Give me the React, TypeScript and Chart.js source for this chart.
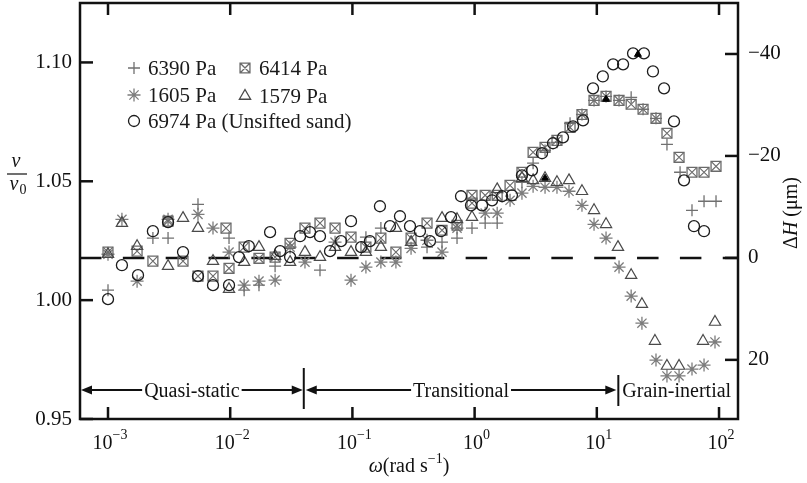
import React, { useEffect, useRef } from 'react';
import { Chart, registerables } from 'chart.js';

Chart.register(...registerables);

// ---------- axes ----------
const xTickValues = [0.001, 0.01, 0.1, 1, 10, 100];
const xTickExponents = ['\u22123', '\u22122', '\u22121', '0', '1', '2'];
const yTickValues = [0.95, 1.0, 1.05, 1.1];
const y2TickValues = [-40, -20, 0, 20];
const xMin = 0.00059;
const xMax = 143;
const yMin = 0.95;
const yMax = 1.125;
const y2Min = -50;
const y2Max = 31.6;

// regime boundaries (rad/s) and labels
const regimeBounds = [0.04, 15];
const regimeLabels = ['Quasi-static', 'Transitional', 'Grain-inertial'];

// ---------- data ----------
const omega6390 = [0.001, 0.00233, 0.0031, 0.00545, 0.00978, 0.013, 0.0172, 0.0233, 0.0543, 0.129, 0.171, 0.408, 0.541, 0.718, 0.952, 1.22, 1.53, 2.44, 3.01, 3.77, 4.72, 6.04, 7.56, 9.49, 11.9, 15.2, 19.1, 23.9, 30.5, 37.5, 48.0, 60.1, 75.4, 94.5];
const v6390 = [1.0042, 1.0261, 1.0261, 1.0403, 1.0261, 1.0042, 1.0063, 1.0143, 1.0126, 1.0265, 1.0303, 1.0223, 1.0244, 1.0261, 1.0303, 1.0324, 1.0324, 1.0496, 1.0576, 1.063, 1.0664, 1.0744, 1.0781, 1.084, 1.0857, 1.084, 1.0853, 1.0803, 1.0765, 1.0655, 1.0538, 1.0378, 1.0416, 1.0416];

const omega6414 = [0.001, 0.00173, 0.00233, 0.0031, 0.00411, 0.00545, 0.00723, 0.00924, 0.00978, 0.013, 0.0172, 0.0233, 0.0309, 0.0409, 0.0543, 0.0721, 0.0974, 0.129, 0.171, 0.227, 0.302, 0.408, 0.541, 0.718, 0.952, 0.952, 1.22, 1.53, 1.95, 2.44, 3.01, 3.77, 4.72, 6.04, 7.56, 9.49, 11.9, 15.2, 19.1, 23.9, 30.5, 37.5, 47.1, 60.1, 75.4, 94.5];
const v6414 = [1.0202, 1.0206, 1.0164, 1.0332, 1.0164, 1.0101, 1.0101, 1.0303, 1.0134, 1.0223, 1.0176, 1.0181, 1.0239, 1.0303, 1.0324, 1.0303, 1.0265, 1.0223, 1.0261, 1.0202, 1.0261, 1.0324, 1.0294, 1.0315, 1.0441, 1.0408, 1.0441, 1.0441, 1.0483, 1.0538, 1.0622, 1.0643, 1.0672, 1.0727, 1.0781, 1.084, 1.0857, 1.084, 1.0824, 1.0803, 1.0765, 1.0702, 1.0601, 1.0538, 1.0538, 1.0563];

const omega1605 = [0.001, 0.0013, 0.00173, 0.0031, 0.00545, 0.00723, 0.00978, 0.013, 0.0172, 0.0233, 0.0309, 0.0409, 0.0721, 0.0974, 0.129, 0.171, 0.227, 0.302, 0.408, 0.541, 0.718, 1.22, 1.53, 1.95, 2.44, 3.01, 3.77, 4.72, 5.92, 7.56, 9.49, 11.9, 15.2, 19.1, 23.4, 30.5, 37.5, 47.1, 60.1, 75.4, 92.7];
const v1605 = [1.0193, 1.034, 1.008, 1.034, 1.0361, 1.0303, 1.0202, 1.0063, 1.008, 1.0084, 1.0223, 1.016, 1.0244, 1.0084, 1.0139, 1.016, 1.016, 1.0218, 1.0252, 1.0202, 1.0303, 1.0366, 1.0366, 1.042, 1.045, 1.0479, 1.0475, 1.0475, 1.0458, 1.0399, 1.0319, 1.0261, 1.0139, 1.0017, 0.9903, 0.9748, 0.9681, 0.9681, 0.971, 0.9727, 0.9824];

const omega1579 = [0.001, 0.0013, 0.00173, 0.0031, 0.00411, 0.00545, 0.00723, 0.00978, 0.013, 0.0172, 0.0233, 0.0309, 0.0409, 0.0543, 0.0721, 0.0974, 0.129, 0.171, 0.227, 0.302, 0.541, 0.718, 0.952, 1.53, 2.44, 3.01, 3.77, 4.72, 5.92, 7.56, 9.49, 11.9, 14.9, 19.1, 23.4, 29.9, 37.5, 47.1, 74.0, 92.7];
const v1579 = [1.0193, 1.0324, 1.0227, 1.0143, 1.0345, 1.0303, 1.0164, 1.0046, 1.016, 1.0223, 1.0185, 1.016, 1.0202, 1.0181, 1.0223, 1.0202, 1.0202, 1.0223, 1.0303, 1.0244, 1.0345, 1.034, 1.0349, 1.0466, 1.0513, 1.0504, 1.0513, 1.0496, 1.0504, 1.0458, 1.0378, 1.0319, 1.0223, 1.0105, 0.9983, 0.9828, 0.9723, 0.9723, 0.9828, 0.9908];

const omega6974 = [0.001, 0.0013, 0.00176, 0.00233, 0.0031, 0.00411, 0.00545, 0.00723, 0.00978, 0.0118, 0.0142, 0.0212, 0.0256, 0.0309, 0.0373, 0.045, 0.0543, 0.0656, 0.0807, 0.0974, 0.118, 0.139, 0.168, 0.203, 0.245, 0.296, 0.357, 0.431, 0.531, 0.641, 0.774, 0.934, 1.15, 1.39, 1.68, 2.02, 2.44, 2.95, 3.56, 4.38, 5.29, 6.39, 7.71, 9.31, 11.2, 13.6, 16.4, 19.8, 24.3, 28.8, 35.5, 42.8, 51.7, 62.4, 75.4];
const v6974 = [1.0004, 1.0147, 1.0105, 1.029, 1.0328, 1.0202, 1.0101, 1.0063, 1.0063, 1.0181, 1.0227, 1.0286, 1.0206, 1.0181, 1.0269, 1.0286, 1.0269, 1.0206, 1.0248, 1.0332, 1.0223, 1.0248, 1.0395, 1.0311, 1.0353, 1.0311, 1.029, 1.0248, 1.029, 1.0349, 1.0437, 1.0399, 1.0399, 1.042, 1.0437, 1.0441, 1.0525, 1.0546, 1.0618, 1.066, 1.0685, 1.0731, 1.0756, 1.0891, 1.0941, 1.0992, 1.0992, 1.1038, 1.1038, 1.0962, 1.0891, 1.0752, 1.0504, 1.0311, 1.029];

// solid black triangles (highlighted points)
const omegaFilled = [3.77, 11.9, 21.7];
const vFilled = [1.0513, 1.0845, 1.1034];

const legendLabels = ['6390 Pa', '6414 Pa', '1605 Pa', '1579 Pa', '6974 Pa (Unsifted sand)'];

// ---------- styles ----------
const SERIF = '"Liberation Serif", "Times New Roman", serif';
const INK = '#111111';
const C_PLUS = '#707070';
const C_SQ = '#6a6a6a';
const C_STAR = '#7c7c7c';
const C_TRI = '#4a4a4a';
const C_CIRC = '#1c1c1c';

const toPts = (xs: number[], ys: number[]) => xs.map((x, i) => ({ x, y: ys[i] }));

function drawMarker(ctx: CanvasRenderingContext2D, kind: string, x: number, y: number, r: number, color: string, lw: number) {
  ctx.save();
  ctx.strokeStyle = color;
  ctx.lineWidth = lw;
  ctx.beginPath();
  if (kind === 'cross') {
    ctx.moveTo(x - r, y); ctx.lineTo(x + r, y);
    ctx.moveTo(x, y - r); ctx.lineTo(x, y + r);
  } else if (kind === 'star') {
    for (let k = 0; k < 4; k++) {
      const ang = (k * Math.PI) / 4;
      ctx.moveTo(x - Math.cos(ang) * r, y - Math.sin(ang) * r);
      ctx.lineTo(x + Math.cos(ang) * r, y + Math.sin(ang) * r);
    }
  } else if (kind === 'rectX') {
    const s = r * Math.SQRT1_2;
    ctx.rect(x - s, y - s, 2 * s, 2 * s);
    ctx.moveTo(x - s, y - s); ctx.lineTo(x + s, y + s);
    ctx.moveTo(x + s, y - s); ctx.lineTo(x - s, y + s);
  } else if (kind === 'triangle') {
    let rad = 0;
    ctx.moveTo(x + Math.sin(rad) * r, y - Math.cos(rad) * r);
    rad += (2 * Math.PI) / 3;
    ctx.lineTo(x + Math.sin(rad) * r, y - Math.cos(rad) * r);
    rad += (2 * Math.PI) / 3;
    ctx.lineTo(x + Math.sin(rad) * r, y - Math.cos(rad) * r);
    ctx.closePath();
  } else if (kind === 'circle') {
    ctx.arc(x, y, r, 0, Math.PI * 2);
  }
  ctx.stroke();
  ctx.restore();
}

function drawRich(ctx: CanvasRenderingContext2D, parts: { t: string; size: number; italic?: boolean; dy?: number }[], cx: number, baseY: number) {
  const widths = parts.map(p => {
    ctx.font = `${p.italic ? 'italic ' : ''}${p.size}px ${SERIF}`;
    return ctx.measureText(p.t).width;
  });
  const total = widths.reduce((a, b) => a + b, 0);
  let x = cx - total / 2;
  ctx.textAlign = 'left';
  parts.forEach((p, i) => {
    ctx.font = `${p.italic ? 'italic ' : ''}${p.size}px ${SERIF}`;
    ctx.fillText(p.t, x, baseY + (p.dy || 0));
    x += widths[i];
  });
}

const decor = {
  id: 'decor',
  afterDraw(chart: any) {
    const { ctx, chartArea: a, scales } = chart;
    const sx = scales.x, sy = scales.y, sy2 = scales.y2;
    ctx.save();
    ctx.strokeStyle = INK;
    ctx.fillStyle = INK;
    const seg = (x1: number, y1: number, x2: number, y2: number) => {
      ctx.beginPath(); ctx.moveTo(x1, y1); ctx.lineTo(x2, y2); ctx.stroke();
    };

    // frame
    ctx.lineWidth = 2.5;
    ctx.strokeRect(a.left, a.top, a.right - a.left, a.bottom - a.top);

    // inward ticks
    xTickValues.forEach(v => {
      const px = sx.getPixelForValue(v);
      seg(px, a.bottom, px, a.bottom - 12);
      seg(px, a.top, px, a.top + 12);
    });
    yTickValues.forEach(v => {
      const py = sy.getPixelForValue(v);
      seg(a.left, py, a.left + 13, py);
    });
    y2TickValues.forEach(v => {
      const py = sy2.getPixelForValue(v);
      seg(a.right - 13, py, a.right, py);
    });

    // x tick labels (10^n)
    ctx.textBaseline = 'alphabetic';
    xTickValues.forEach((v, i) => {
      const px = sx.getPixelForValue(v);
      drawRich(ctx, [
        { t: '10', size: 20 },
        { t: xTickExponents[i], size: 14, dy: -10 },
      ], px + 2, a.bottom + 30);
    });

    // x title
    drawRich(ctx, [
      { t: '\u03C9', size: 20, italic: true },
      { t: '(rad s', size: 20 },
      { t: '\u22121', size: 14, dy: -9 },
      { t: ')', size: 20 },
    ], (a.left + a.right) / 2, a.bottom + 53);

    // left title v / v0
    ctx.textAlign = 'center';
    ctx.font = `italic 20px ${SERIF}`;
    ctx.fillText('v', 16, 167);
    ctx.lineWidth = 1.2;
    seg(7, 174, 27, 174);
    ctx.fillText('v', 14, 190);
    ctx.font = `14px ${SERIF}`;
    ctx.fillText('0', 23, 194);

    // right title ΔH (μm)
    ctx.save();
    ctx.translate(792, 213);
    ctx.rotate(-Math.PI / 2);
    ctx.textBaseline = 'middle';
    drawRich(ctx, [
      { t: '\u0394', size: 20 },
      { t: 'H', size: 20, italic: true },
      { t: ' (\u03BCm)', size: 20 },
    ], 0, 0);
    ctx.restore();

    // regime annotations
    const ly = 390;
    const bx = regimeBounds.map(b => sx.getPixelForValue(b));
    ctx.lineWidth = 2;
    seg(bx[0], 368, bx[0], 409);
    seg(bx[1], 375, bx[1], 406);
    const head = (tipX: number, dir: number) => {
      ctx.beginPath();
      ctx.moveTo(tipX, ly);
      ctx.lineTo(tipX + dir * 11, ly - 4.5);
      ctx.lineTo(tipX + dir * 11, ly + 4.5);
      ctx.closePath();
      ctx.fill();
    };
    ctx.font = `20px ${SERIF}`;
    ctx.textBaseline = 'alphabetic';
    const region = (x1: number, x2: number, text: string) => {
      const w = ctx.measureText(text).width;
      const c = (x1 + x2) / 2;
      ctx.textAlign = 'center';
      ctx.fillText(text, c, ly + 7);
      seg(x1 + 4, ly, c - w / 2 - 2, ly);
      seg(c + w / 2 + 2, ly, x2 - 4, ly);
      head(x1, 1);
      head(x2, -1);
    };
    region(a.left + 1, bx[0] - 1, regimeLabels[0]);
    region(bx[0] + 2, bx[1] - 2, regimeLabels[1]);
    ctx.textAlign = 'left';
    ctx.fillText(regimeLabels[2], bx[1] + 4, ly + 7);

    // legend
    const legendItems = [
      { kind: 'cross', color: C_PLUS, r: 6, x: 134, y: 68 },
      { kind: 'rectX', color: C_SQ, r: 7, x: 245, y: 68 },
      { kind: 'star', color: C_STAR, r: 6.5, x: 134, y: 95 },
      { kind: 'triangle', color: C_TRI, r: 6.5, x: 245, y: 96 },
      { kind: 'circle', color: C_CIRC, r: 5.5, x: 134, y: 121 },
    ];
    ctx.font = `21px ${SERIF}`;
    ctx.textAlign = 'left';
    ctx.textBaseline = 'middle';
    legendItems.forEach((it, i) => {
      drawMarker(ctx, it.kind, it.x, it.y, it.r, it.color, 1.3);
      ctx.fillStyle = '#1a1a1a';
      ctx.fillText(legendLabels[i], it.x + 14, it.y + 1);
    });
    ctx.restore();
  },
};

export default function App() {
  const ref = useRef<HTMLCanvasElement>(null);
  useEffect(() => {
    if (!ref.current) return;
    const chart = new Chart(ref.current, {
      type: 'scatter',
      data: {
        datasets: [
          {
            label: 'filled',
            data: toPts(omegaFilled, vFilled),
            pointStyle: 'triangle',
            pointRadius: 4,
            borderColor: '#000',
            backgroundColor: '#000',
            borderWidth: 1,
            yAxisID: 'y',
          },
          {
            label: legendLabels[4],
            data: toPts(omega6974, v6974),
            pointStyle: 'circle',
            pointRadius: 5.5,
            borderColor: C_CIRC,
            backgroundColor: 'rgba(0,0,0,0)',
            borderWidth: 1.3,
            yAxisID: 'y',
          },
          {
            label: legendLabels[3],
            data: toPts(omega1579, v1579),
            pointStyle: 'triangle',
            pointRadius: 6.5,
            borderColor: C_TRI,
            backgroundColor: 'rgba(0,0,0,0)',
            borderWidth: 1.2,
            yAxisID: 'y',
          },
          {
            label: legendLabels[0],
            data: toPts(omega6390, v6390),
            pointStyle: 'cross',
            pointRadius: 6,
            borderColor: C_PLUS,
            backgroundColor: 'rgba(0,0,0,0)',
            borderWidth: 1.3,
            yAxisID: 'y',
          },
          {
            label: legendLabels[1],
            data: toPts(omega6414, v6414),
            pointStyle: 'rect',
            pointRadius: 7,
            borderColor: C_SQ,
            backgroundColor: 'rgba(0,0,0,0)',
            borderWidth: 1.3,
            yAxisID: 'y',
          },
          {
            label: legendLabels[1] + ' x',
            data: toPts(omega6414, v6414),
            pointStyle: 'crossRot',
            pointRadius: 7,
            borderColor: C_SQ,
            backgroundColor: 'rgba(0,0,0,0)',
            borderWidth: 1.1,
            yAxisID: 'y',
          },
          {
            label: legendLabels[2],
            data: toPts(omega1605, v1605),
            pointStyle: 'star',
            pointRadius: 6.5,
            borderColor: C_STAR,
            backgroundColor: 'rgba(0,0,0,0)',
            borderWidth: 1.3,
            yAxisID: 'y',
          },
          {
            label: 'zero',
            data: [{ x: xMin, y: 0 }, { x: xMax, y: 0 }],
            showLine: true,
            pointRadius: 0,
            borderColor: INK,
            borderWidth: 2.5,
            borderDash: [21.5, 21.35],
            yAxisID: 'y2',
          } as any,
        ],
      },
      options: {
        animation: false,
        responsive: false,
        devicePixelRatio: 1,
        events: [],
        layout: { autoPadding: false, padding: { top: 3, left: 0, right: 0, bottom: 0 } },
        plugins: { legend: { display: false }, tooltip: { enabled: false } },
        scales: {
          x: {
            type: 'logarithmic',
            min: xMin,
            max: xMax,
            grid: { display: false, drawTicks: false },
            border: { display: false },
            ticks: { display: false },
            afterFit: (s: any) => { s.height = 64; s.paddingLeft = 0; s.paddingRight = 0; },
          },
          y: {
            type: 'linear',
            position: 'left',
            min: yMin,
            max: yMax,
            grid: { display: false, drawTicks: false },
            border: { display: false },
            afterBuildTicks: (s: any) => { s.ticks = yTickValues.map(v => ({ value: v })); },
            ticks: {
              padding: 8,
              color: INK,
              font: { family: '"Liberation Serif", serif', size: 21 },
              callback: (v: any) => Number(v).toFixed(2),
            },
            afterFit: (s: any) => { s.width = 80; s.paddingTop = 0; s.paddingBottom = 0; },
          },
          y2: {
            type: 'linear',
            position: 'right',
            reverse: true,
            min: y2Min,
            max: y2Max,
            grid: { display: false, drawTicks: false },
            border: { display: false },
            afterBuildTicks: (s: any) => { s.ticks = y2TickValues.map(v => ({ value: v })); },
            ticks: {
              padding: 10,
              color: INK,
              font: { family: '"Liberation Serif", serif', size: 21 },
              callback: (v: any) => (Number(v) < 0 ? '\u2212' + Math.abs(Number(v)) : String(v)),
            },
            afterFit: (s: any) => { s.width = 69; s.paddingTop = 0; s.paddingBottom = 0; },
          },
        },
      } as any,
      plugins: [decor],
    });
    return () => chart.destroy();
  }, []);
  return (
    <div style={{ position: 'fixed', left: 0, top: 0, width: 807, height: 483, background: '#fff' }}>
      <canvas ref={ref} width={807} height={483} style={{ display: 'block', width: 807, height: 483 }} />
    </div>
  );
}
